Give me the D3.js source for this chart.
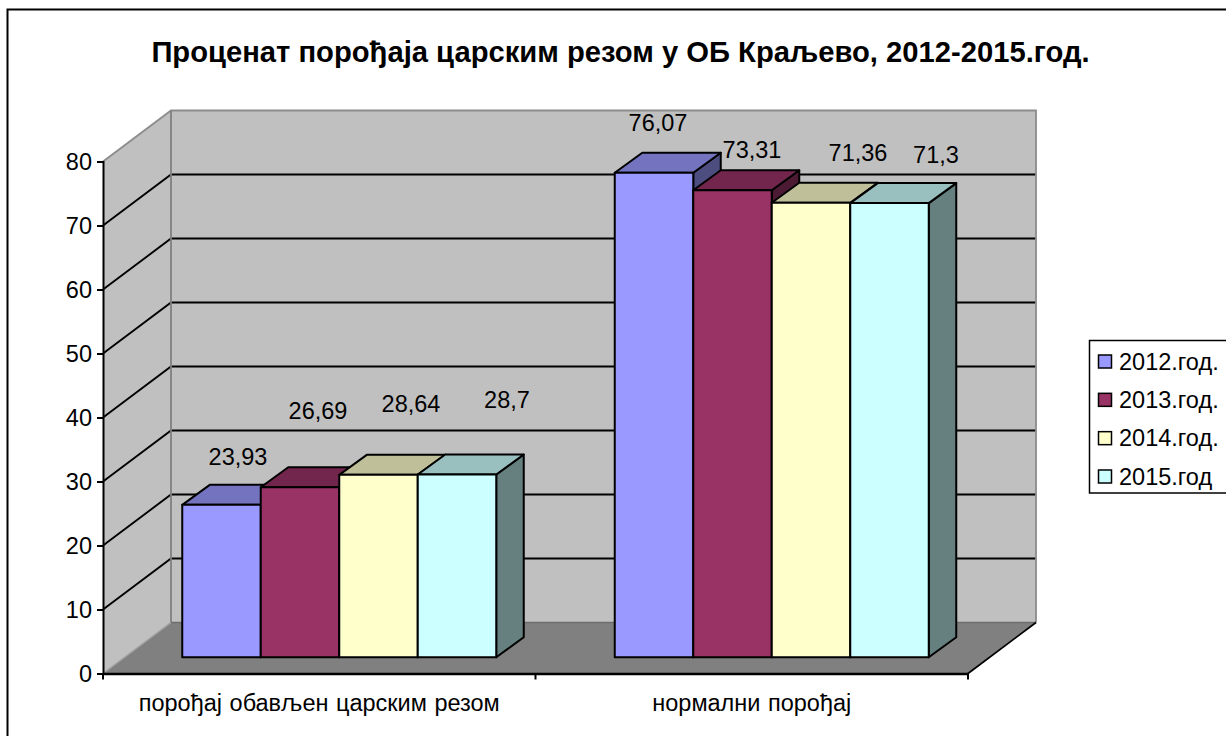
<!DOCTYPE html>
<html>
<head>
<meta charset="utf-8">
<script src="https://cdnjs.cloudflare.com/ajax/libs/d3/7.8.5/d3.min.js"></script>
<style>
    html, body { margin: 0; padding: 0; background: #fff; overflow: hidden; }
    svg { display: block; }
    text { font-family: "Liberation Sans", Arial, sans-serif; fill: #000; }
</style>
</head>
<body>
<svg id="chart" width="1226" height="736"></svg>
<script>
//  === Data ===
var chartTitle = "Проценат порођаја царским резом у ОБ Краљево, 2012-2015.год.";
var categories = ["порођај обављен царским резом", "нормални порођај"];
var seriesNames = ["2012.год.", "2013.год.", "2014.год.", "2015.год"];
var values2012 = [23.93, 76.07];
var values2013 = [26.69, 73.31];
var values2014 = [28.64, 71.36];
var values2015 = [28.7, 71.3];
var labels2012 = ["23,93", "76,07"];
var labels2013 = ["26,69", "73,31"];
var labels2014 = ["28,64", "71,36"];
var labels2015 = ["28,7", "71,3"];
var yTicks = [0, 10, 20, 30, 40, 50, 60, 70, 80];
var frontColors = ["#9999ff", "#993366", "#ffffcc", "#ccffff"];
var topColors = ["#7373bf", "#73264d", "#bfbf99", "#99bfbf"];
var sideColors = ["#4d4d80", "#4d1a33", "#808066", "#668080"];

var allValues = [values2012, values2013, values2014, values2015];
var allLabels = [labels2012, labels2013, labels2014, labels2015];

//  === Scales ===
var depthX = 68, depthY = 51;          // floor depth
var barShiftX = 20, barShiftY = 16.2;  // bars stand a bit behind the front edge
var barDepthX = 27.5, barDepthY = 20;
var fontSize = 23.5;

var x0 = d3.scaleBand().domain(categories).range([103, 968]).paddingInner(0.274).paddingOuter(0.137);
var x1 = d3.scaleBand().domain(seriesNames).range([0, x0.bandwidth()]);
var y = d3.scaleLinear().domain([0, 80]).range([673.5, 161.5]);
var yBar = d3.scaleLinear().domain([0, 80]).range([657.3, 147.7]);

var svg = d3.select("#chart");

// outer chart border, runs off the right and the bottom of the picture
svg.append("rect")
    .attr("x", 7.5).attr("y", 9.5)
    .attr("width", 1240).attr("height", 760)
    .attr("fill", "#fff").attr("stroke", "#000").attr("stroke-width", 2);

svg.append("text")
    .attr("x", 620.5).attr("y", 62)
    .attr("text-anchor", "middle")
    .attr("font-size", 29.2).attr("font-weight", "bold")
    .text(chartTitle);

//  === Walls and floor ===
var xl = x0.range()[0], xr = x0.range()[1];
function pts(a) { return a.map(function (p) { return p.join(","); }).join(" "); }

svg.append("polygon")
    .attr("points", pts([[xl, y(0)], [xl + depthX, y(0) - depthY], [xl + depthX, y(80) - depthY], [xl, y(80)]]))
    .attr("fill", "#c0c0c0");
svg.append("polygon")
    .attr("points", pts([[xl + depthX, y(0) - depthY], [xr + depthX, y(0) - depthY], [xr + depthX, y(80) - depthY], [xl + depthX, y(80) - depthY]]))
    .attr("fill", "#c0c0c0");
svg.append("polygon")
    .attr("points", pts([[xl, y(0)], [xr, y(0)], [xr + depthX, y(0) - depthY], [xl + depthX, y(0) - depthY]]))
    .attr("fill", "#808080");

// gridlines on the side wall and the back wall
yTicks.slice(1, -1).forEach(function (t) {
    svg.append("polyline")
        .attr("points", pts([[xl, y(t)], [xl + depthX, y(t) - depthY], [xr + depthX, y(t) - depthY]]))
        .attr("fill", "none").attr("stroke", "#000").attr("stroke-width", 1.9);
});

// wall edges
svg.append("polyline")
    .attr("points", pts([[xl, y(80)], [xl + depthX, y(80) - depthY], [xr + depthX, y(80) - depthY], [xr + depthX, y(0) - depthY]]))
    .attr("fill", "none").attr("stroke", "#8c8c8c").attr("stroke-width", 1.8);
svg.append("line")
    .attr("x1", xl + depthX).attr("y1", y(80) - depthY)
    .attr("x2", xl + depthX).attr("y2", y(0) - depthY)
    .attr("stroke", "#808080").attr("stroke-width", 1.8);
svg.append("line")
    .attr("x1", xl).attr("y1", y(0))
    .attr("x2", xl + depthX).attr("y2", y(0) - depthY)
    .attr("stroke", "#a0a0a0").attr("stroke-width", 1.5);
svg.append("line")
    .attr("x1", xl + depthX).attr("y1", y(0) - depthY)
    .attr("x2", xr + depthX).attr("y2", y(0) - depthY)
    .attr("stroke", "#6e6e6e").attr("stroke-width", 1.5);
svg.append("line")
    .attr("x1", xr).attr("y1", y(0))
    .attr("x2", xr + depthX).attr("y2", y(0) - depthY)
    .attr("stroke", "#000").attr("stroke-width", 1.8);

//  === Axes ===
var yAxis = d3.axisLeft(y).tickValues(yTicks).tickSize(6).tickPadding(5);
var gy = svg.append("g").attr("transform", "translate(" + xl + ",0)").call(yAxis);
gy.selectAll("path,line").attr("stroke", "#000").attr("stroke-width", 2);
gy.selectAll("text").attr("font-size", fontSize).attr("font-family", "Liberation Sans")
    .attr("dy", "0.36em");

var xAxis = d3.axisBottom(x0).tickSize(0).tickPadding(20.7);
var gx = svg.append("g").attr("transform", "translate(0," + y(0) + ")").call(xAxis);
gx.select("path").attr("stroke", "#000").attr("stroke-width", 2.4);
gx.selectAll("text").attr("font-size", fontSize).attr("font-family", "Liberation Sans")
    .attr("word-spacing", 1);
// category ticks sit on the category boundaries
[xl, (xl + xr) / 2, xr].forEach(function (tx) {
    svg.append("line")
        .attr("x1", tx).attr("x2", tx)
        .attr("y1", y(0)).attr("y2", y(0) + 6)
        .attr("stroke", "#000").attr("stroke-width", 2);
});

//  === Bars ===
categories.forEach(function (cat, c) {
    seriesNames.forEach(function (name, s) {
        var v = allValues[s][c];
        var left = x0(cat) + x1(name) + barShiftX;
        var right = left + x1.bandwidth();
        var top = yBar(v);
        var bottom = yBar(0);
        var g = svg.append("g").attr("class", "bar").attr("stroke", "#000")
            .attr("stroke-width", 2).attr("stroke-linejoin", "round");
        g.append("polygon")
            .attr("points", pts([[right, top], [right + barDepthX, top - barDepthY], [right + barDepthX, bottom - barDepthY], [right, bottom]]))
            .attr("fill", sideColors[s]);
        g.append("polygon")
            .attr("points", pts([[left, top], [left + barDepthX, top - barDepthY], [right + barDepthX, top - barDepthY], [right, top]]))
            .attr("fill", topColors[s]);
        g.append("rect")
            .attr("x", left).attr("y", top)
            .attr("width", x1.bandwidth()).attr("height", bottom - top)
            .attr("fill", frontColors[s]);
    });
});

//  === Data labels ===
// the labels are not at a constant distance from the bars in the original
var labelNudgeX = [[16.5, 18, 32.5, 50], [4, 19.5, 47, 46.5]];
var labelNudgeY = [[-39.5, -68, -63, -66.5], [-42, -32, -41.5, -40.5]];
categories.forEach(function (cat, c) {
    seriesNames.forEach(function (name, s) {
        svg.append("text")
            .attr("x", x0(cat) + x1(name) + barShiftX + x1.bandwidth() / 2 + labelNudgeX[c][s])
            .attr("y", yBar(allValues[s][c]) + labelNudgeY[c][s])
            .attr("text-anchor", "middle")
            .attr("font-size", fontSize)
            .text(allLabels[s][c]);
    });
});

//  === Legend ===
var legendY = d3.scalePoint().domain(seriesNames).range([361.5, 476.5]);
svg.append("rect")
    .attr("x", 1089.5).attr("y", 340.5)
    .attr("width", 170).attr("height", 152.5)
    .attr("fill", "#fff").attr("stroke", "#000").attr("stroke-width", 1.5);
seriesNames.forEach(function (name, s) {
    svg.append("rect")
        .attr("x", 1098.5).attr("y", legendY(name) - 6.5)
        .attr("width", 13).attr("height", 13)
        .attr("fill", frontColors[s]).attr("stroke", "#000").attr("stroke-width", 1.5);
    svg.append("text")
        .attr("x", 1119).attr("y", legendY(name) + 8)
        .attr("font-size", fontSize)
        .text(name);
});
</script>
</body>
</html>
